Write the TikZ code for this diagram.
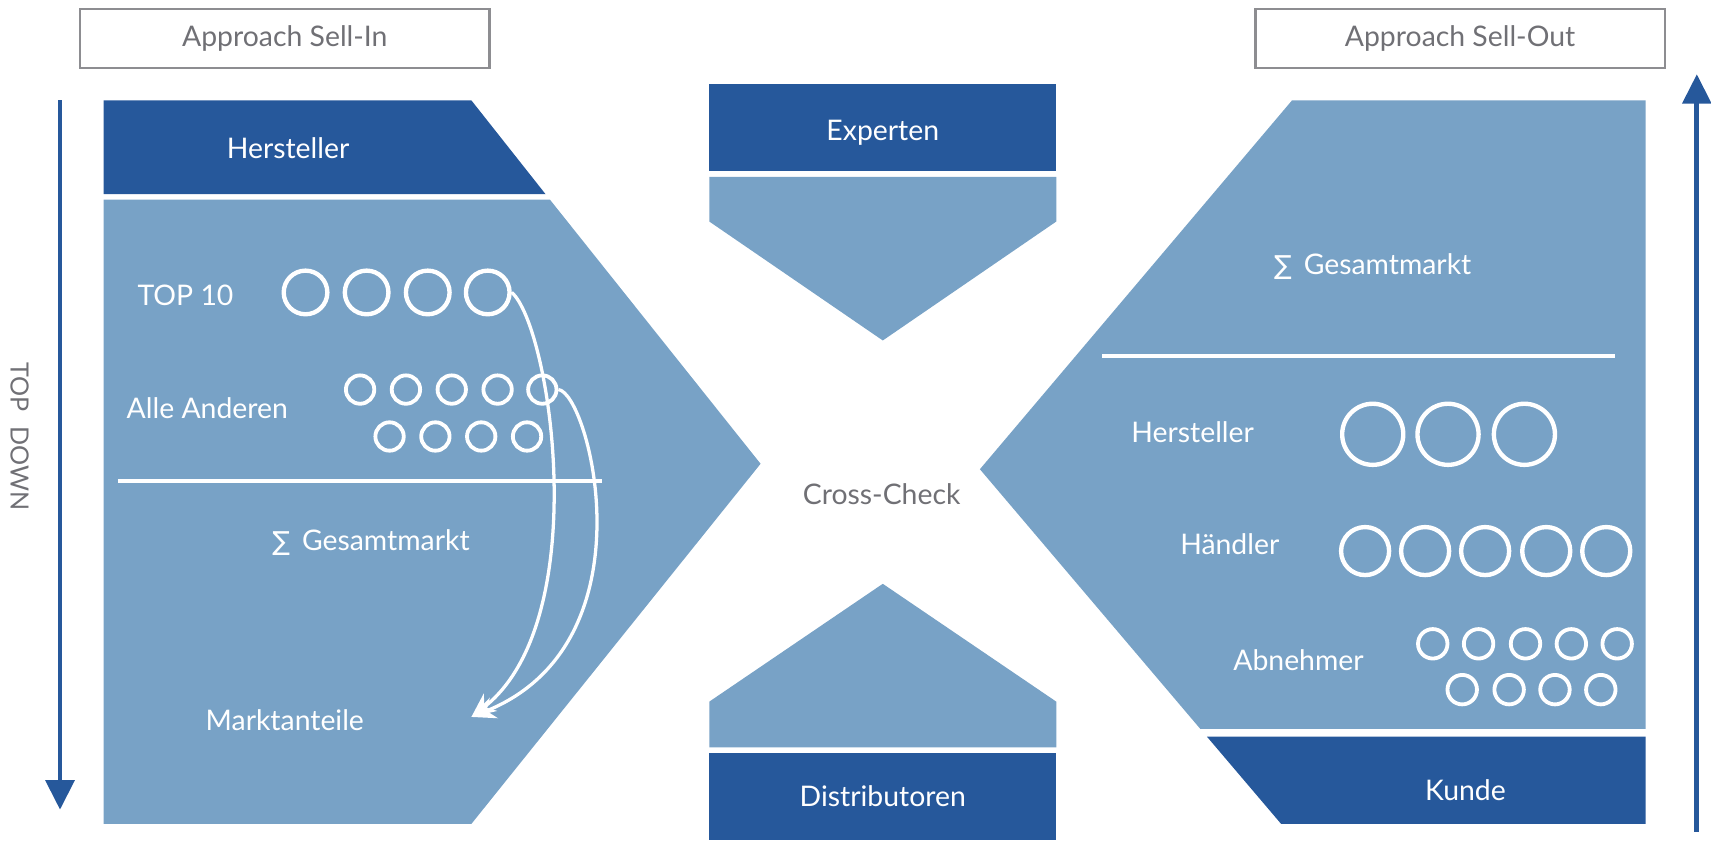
\documentclass[tikz,border=0pt]{standalone}
\usepackage{fontspec}
\setmainfont{Lato}
\newfontfamily\sigmafont{DejaVu Sans}
\usetikzlibrary{arrows.meta}
\definecolor{darkblue}{HTML}{26589B}
\definecolor{lightblue}{HTML}{78A2C6}
\definecolor{textgray}{HTML}{707075}

\begin{document}
\begin{tikzpicture}[x=1pt,y=-1pt,
  lbl/.style={text=white,font=\fontsize{26}{30}\selectfont},
  graylbl/.style={text=textgray,font=\fontsize{26}{30}\selectfont},
  titlebox/.style={draw=textgray!80,line width=2pt,minimum width=375pt,minimum height=54pt},
  ring/.style={circle,draw=white,line width=4pt,inner sep=0pt,minimum size=#1},
  ring/.default=28pt,
  curve/.style={draw=white,line width=3pt,-{Stealth[length=22pt,width=20pt]}},
  updown/.style={draw=darkblue,line width=4.5pt,-{Triangle[length=27pt,width=26pt]}},
  sep/.style={draw=white,line width=4pt}]
  \useasboundingbox (0,0) rectangle (1568,780);

  % titles and direction arrows
  \node[titlebox,graylbl] (sellin) at (261,35) {Approach Sell-In};
  \node[titlebox,graylbl] (sellout) at (1338,35) {Approach Sell-Out};
  \coordinate (tdtop) at (55,92);
  \coordinate (tdbot) at (55,742);
  \draw[updown] (tdtop) -- (tdbot);
  \node[graylbl,font=\fontsize{23}{26}\selectfont,rotate=-90] (topdown) at (18,400) {TOP\,\, DOWN};
  \coordinate (butop) at (1555,68);
  \coordinate (bubot) at (1555,762);
  \draw[updown] (bubot) -- (butop);

  % sell-in (left)
  \fill[lightblue] (95,183) -- (504,183) -- (697,425) -- (432,755) -- (95,755) -- cycle;
  \fill[darkblue] (95,92) -- (432,92) -- (500,178) -- (95,178) -- cycle;
  \node[lbl] (lhersteller) at (264,136) {Hersteller};
  \node[lbl] (top10) at (170,271) {TOP 10};
  \foreach \x [count=\i] in {280,336,392,447}
    \node[ring=40pt] (t\i) at (\x,268) {};
  \node[lbl] (andere) at (190,374) {Alle Anderen};
  \foreach \x [count=\i] in {330,372,414,456,497}
    \node[ring=26pt,line width=3.5pt] (a\i) at (\x,357) {};
  \foreach \x [count=\i from 6] in {357,399,441,483}
    \node[ring=26pt,line width=3.5pt] (a\i) at (\x,400) {};
  \draw[sep] (108,441) -- (552,441);
  \node[lbl] (lgesamt) at (340,497) {{\sigmafont\fontsize{24}{28}\selectfont ∑}\, Gesamtmarkt};
  \node[lbl] (markt) at (261,660) {Marktanteile};
  \coordinate (tip) at (432,657);
  \draw[curve] (t4.east) .. controls (505,300) and (545,570) .. (tip);
  \draw[curve] (a5.east) .. controls (540,360) and (600,590) .. (tip);

  % middle
  \fill[darkblue] (650,77) rectangle (968,157);
  \fill[lightblue] (650,162) -- (968,162) -- (968,203) -- (809,312) -- (650,203) -- cycle;
  \node[lbl] (experten) at (809,122) {Experten};
  \node[graylbl] (cross) at (808,453) {Cross-Check};
  \fill[lightblue] (650,685) -- (650,643) -- (809,535) -- (968,643) -- (968,685) -- cycle;
  \fill[darkblue] (650,690) rectangle (968,770);
  \node[lbl] (distri) at (809,730) {Distributoren};

  % sell-out (right)
  \fill[lightblue] (1184,92) -- (1508,92) -- (1508,668) -- (1100,668) -- (898,430) -- cycle;
  \fill[darkblue] (1106,675) -- (1508,675) -- (1508,755) -- (1174,755) -- cycle;
  \node[lbl] (rgesamt) at (1258,244) {{\sigmafont\fontsize{24}{28}\selectfont ∑}\, Gesamtmarkt};
  \draw[sep] (1010,326) -- (1480,326);
  \node[lbl] (rhersteller) at (1093,396) {Hersteller};
  \foreach \x [count=\i] in {1258,1327,1397}
    \node[ring=56pt] (h\i) at (\x,398) {};
  \node[lbl] (haendler) at (1127,499) {Händler};
  \foreach \x [count=\i] in {1251,1306,1361,1417,1472}
    \node[ring=44pt] (d\i) at (\x,505) {};
  \node[lbl] (abnehmer) at (1190,605) {Abnehmer};
  \foreach \x [count=\i] in {1313,1355,1398,1440,1482}
    \node[ring=27pt,line width=3.5pt] (b\i) at (\x,590) {};
  \foreach \x [count=\i from 6] in {1340,1383,1425,1467}
    \node[ring=27pt,line width=3.5pt] (b\i) at (\x,632) {};
  \node[lbl] (kunde) at (1343,724) {Kunde};
\end{tikzpicture}
\end{document}
